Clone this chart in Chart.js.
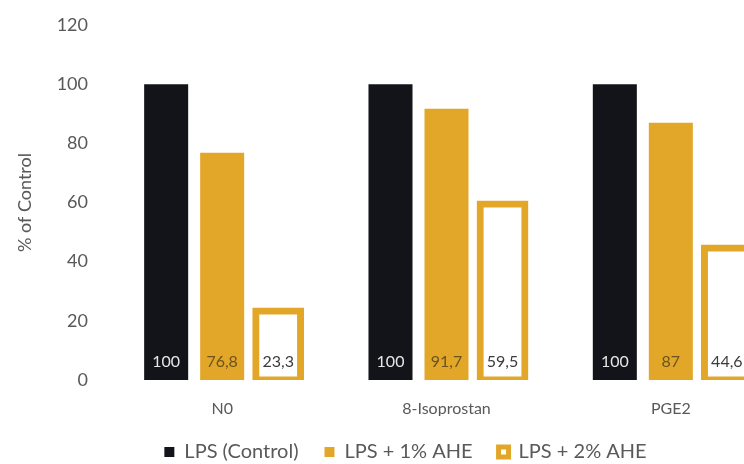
<!DOCTYPE html>
<html lang="en">
<head>
<meta charset="UTF-8">
<title>% of Control</title>
<script src="https://cdn.jsdelivr.net/npm/chart.js"></script>
<style>
  body { margin: 0; background: #fff; overflow: hidden; }
  .wrap { width: 744px; height: 464px; overflow: hidden; }
  canvas { display: block; }
</style>
</head>
<body>
<div class="wrap"><canvas id="chart" width="808" height="472"></canvas></div>
<script>
// categories and series
const categories = ['N0', '8-Isoprostan', 'PGE2'];
const seriesNames = ['LPS (Control)', 'LPS + 1% AHE', 'LPS + 2% AHE'];
const control = [100, 100, 100];
const ahe1 = [76.8, 91.7, 87];
const ahe2 = [23.3, 59.5, 44.6];
const yTicks = [0, 20, 40, 60, 80, 100, 120];

const GOLD = '#e2a729';
const DARK = '#121419';
const GREY = '#595959';

// value written at the foot of every bar, decimal comma
const valueLabels = {
  id: 'valueLabels',
  afterLayout(chart) {
    // nudge the legend row a little to the right
    chart.legend.left += 14;
    chart.legend.right += 14;
  },
  afterDatasetsDraw(chart) {
    const ctx = chart.ctx;
    const y0 = chart.scales.y.getPixelForValue(0);
    ctx.save();
    ctx.font = '16px Lato';
    ctx.textAlign = 'center';
    ctx.textBaseline = 'middle';
    chart.data.datasets.forEach((ds, i) => {
      chart.getDatasetMeta(i).data.forEach((bar, j) => {
        ctx.fillStyle = ds.labelColor;
        ctx.fillText(String(ds.data[j]).replace('.', ','), bar.x, y0 - 18);
      });
    });
    ctx.restore();
  }
};

function draw() {
  Chart.defaults.font.family = 'Lato, "Open Sans", sans-serif';

  new Chart(document.getElementById('chart'), {
    type: 'bar',
    data: {
      labels: categories,
      datasets: [
        { label: seriesNames[0], data: control, backgroundColor: DARK, labelColor: '#e6e6e6',
          barPercentage: 0.786 },
        { label: seriesNames[1], data: ahe1, backgroundColor: GOLD, labelColor: '#6b531c',
          barPercentage: 0.786 },
        { label: seriesNames[2], data: ahe2, backgroundColor: '#fff', borderColor: GOLD,
          borderWidth: 7, borderSkipped: false, inflateAmount: 3.5, labelColor: '#3c3c3c',
          barPercentage: 0.8 }
      ]
    },
    options: {
      responsive: false,
      animation: false,
      datasets: { bar: { categoryPercentage: 0.749 } },
      layout: { padding: { top: 25, left: 0, right: 25, bottom: 0 } },
      scales: {
        x: {
          grid: { display: false, drawTicks: false },
          border: { display: false },
          ticks: { color: GREY, font: { size: 16 }, padding: 19 },
          afterFit(scale) { scale.height = 36; }
        },
        y: {
          min: yTicks[0],
          max: yTicks[yTicks.length - 1],
          grid: { display: false, drawTicks: false },
          border: { display: false },
          ticks: { stepSize: yTicks[1] - yTicks[0], color: GREY, font: { size: 18 }, padding: 22 },
          title: { display: true, text: '% of Control', color: GREY, font: { size: 18 },
                   padding: { top: 14, bottom: 0 } },
          afterFit(scale) {
            scale.width = 110;
            scale.paddingTop = 0;
            scale.paddingBottom = 0;
          }
        }
      },
      plugins: {
        tooltip: { enabled: false },
        legend: {
          position: 'bottom',
          labels: {
            boxWidth: 10,
            boxHeight: 10,
            padding: 26,
            color: GREY,
            font: { size: 20 },
            generateLabels(chart) {
              return chart.data.datasets.map((ds, i) => ({
                text: ds.label,
                datasetIndex: i,
                fillStyle: i === 2 ? '#fff' : ds.backgroundColor,
                strokeStyle: i === 2 ? GOLD : ds.backgroundColor,
                lineWidth: i === 2 ? 5 : 0,
                fontColor: GREY
              }));
            }
          }
        }
      }
    },
    plugins: [valueLabels]
  });
}

document.fonts.load('17px Lato').then(draw, draw);
</script>
</body>
</html>
